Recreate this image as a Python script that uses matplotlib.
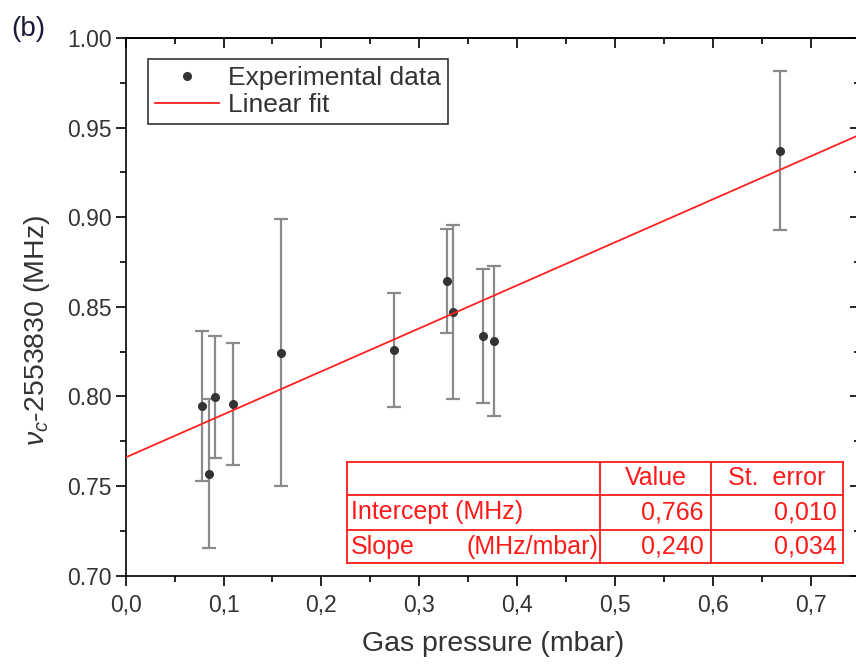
import numpy as np
import matplotlib
matplotlib.use('Agg')
import matplotlib.pyplot as plt
from matplotlib.lines import Line2D
from matplotlib.ticker import MultipleLocator, FuncFormatter

plt.rcParams['font.family'] = ['Liberation Sans', 'DejaVu Sans']
plt.rcParams['mathtext.fontset'] = 'custom'
plt.rcParams['mathtext.it'] = 'Liberation Sans:italic'
plt.rcParams['mathtext.rm'] = 'Liberation Sans'

# data
pressure = [0.0783, 0.0854, 0.0916, 0.110, 0.159, 0.274, 0.328, 0.3348, 0.3654, 0.3764, 0.6686]
freq = [0.7948, 0.757, 0.7998, 0.796, 0.8245, 0.826, 0.8643, 0.8472, 0.8338, 0.831, 0.937]
freq_err = [0.0419, 0.0416, 0.034, 0.034, 0.0744, 0.032, 0.029, 0.0484, 0.0373, 0.0419, 0.0444]

intercept, intercept_err = 0.766, 0.010
slope, slope_err = 0.240, 0.034

W, H = 856, 665
fig = plt.figure(figsize=(W / 100, H / 100), dpi=100)

# axes box in pixels (right spine falls just outside the picture)
ax_l, ax_r, ax_t, ax_b = 125.7, 859.6, 38.0, 575.7
ax = fig.add_axes([ax_l / W, 1 - ax_b / H, (ax_r - ax_l) / W, (ax_b - ax_t) / H])

ax.errorbar(pressure, freq, yerr=freq_err, fmt='none', ecolor='#8a8a8a',
            elinewidth=1.6, capsize=5, capthick=1.6, zorder=2)
ax.plot(pressure, freq, 'o', color='#333333', markersize=5.5, zorder=3,
        label='Experimental data')

xfit = np.array([0.0, 0.75])
ax.plot(xfit, intercept + slope * xfit, color='#ff2020', lw=1.3, zorder=4,
        label='Linear fit')

ax.set_xlim(0, 0.75)
ax.set_ylim(0.70, 1.00)

ax.xaxis.set_major_locator(MultipleLocator(0.1))
ax.xaxis.set_minor_locator(MultipleLocator(0.05))
ax.yaxis.set_major_locator(MultipleLocator(0.05))
ax.yaxis.set_minor_locator(MultipleLocator(0.025))
ax.xaxis.set_major_formatter(FuncFormatter(lambda v, p: f'{v:.1f}'.replace('.', ',')))
ax.yaxis.set_major_formatter(FuncFormatter(lambda v, p: f'{v:.2f}'))

for s in ax.spines.values():
    s.set_linewidth(1.2)
ax.tick_params(which='both', direction='out', width=1.2, labelsize=16.5, colors='black')
ax.tick_params(which='major', length=7)
ax.tick_params(which='minor', length=4)
ax.tick_params(axis='x', pad=6)
ax.tick_params(axis='y', pad=3)
for lab in ax.get_xticklabels() + ax.get_yticklabels():
    lab.set_color('#333333')

# top and right ticks point inward
top = ax.secondary_xaxis('top')
top.xaxis.set_major_locator(MultipleLocator(0.1))
top.xaxis.set_minor_locator(MultipleLocator(0.05))
top.tick_params(which='both', direction='in', width=1.2, labeltop=False)
top.tick_params(which='major', length=7)
top.tick_params(which='minor', length=4)
top.spines['top'].set_linewidth(1.2)
right = ax.secondary_yaxis('right')
right.yaxis.set_major_locator(MultipleLocator(0.05))
right.yaxis.set_minor_locator(MultipleLocator(0.025))
right.tick_params(which='both', direction='in', width=1.2, labelright=False)
right.tick_params(which='major', length=7)
right.tick_params(which='minor', length=4)

ax.set_xlabel('Gas pressure (mbar)', fontsize=20.5, color='#333333', labelpad=10)
fig.text(37 / W, 1 - 330 / H, r'$\nu_c$-2553830 (MHz)', rotation=90,
         ha='center', va='center', fontsize=20.5, color='#333333')
fig.text(11 / W, 1 - 29 / H, '(b)', ha='left', va='center', fontsize=20, color='#1a1a3a')

leg = ax.legend(loc='upper left', bbox_to_anchor=((148 - ax_l) / (ax_r - ax_l), (ax_b - 59) / (ax_b - ax_t)),
                borderaxespad=0, fontsize=19, frameon=True, fancybox=False,
                edgecolor='black', handlelength=2.4, handletextpad=0.35,
                labelspacing=0.1, borderpad=0.28, numpoints=1)
leg.get_frame().set_linewidth(1.2)
for t in leg.get_texts():
    t.set_color('#333333')

# fit results table (pixel layout)
red = '#ff1a1a'
cols = [347.3, 600, 711, 842.7]
rows = [461.7, 495, 530, 563.3]

def fx(px):
    return px / W

def fy(py):
    return 1 - py / H

for r in rows:
    fig.add_artist(Line2D([fx(cols[0]), fx(cols[-1])], [fy(r), fy(r)], color=red, lw=1.3))
for c in cols:
    fig.add_artist(Line2D([fx(c), fx(c)], [fy(rows[0]), fy(rows[-1])], color=red, lw=1.3))

tfs = 18
rc = [(rows[i] + rows[i + 1]) / 2 for i in range(3)]
fig.text(fx((cols[1] + cols[2]) / 2), fy(rc[0]), 'Value', ha='center', va='center', fontsize=tfs, color=red)
fig.text(fx((cols[2] + cols[3]) / 2), fy(rc[0]), 'St.  error', ha='center', va='center', fontsize=tfs, color=red)
fig.text(fx(cols[0] + 4), fy(rc[1]), 'Intercept (MHz)', ha='left', va='center', fontsize=tfs, color=red)
fig.text(fx(cols[2] - 7), fy(rc[1]), f'{intercept:.3f}'.replace('.', ','), ha='right', va='center', fontsize=tfs, color=red)
fig.text(fx(cols[3] - 6), fy(rc[1]), f'{intercept_err:.3f}'.replace('.', ','), ha='right', va='center', fontsize=tfs, color=red)
fig.text(fx(cols[0] + 4), fy(rc[2]), 'Slope', ha='left', va='center', fontsize=tfs, color=red)
fig.text(fx(cols[1] - 2), fy(rc[2]), '(MHz/mbar)', ha='right', va='center', fontsize=tfs, color=red)
fig.text(fx(cols[2] - 7), fy(rc[2]), f'{slope:.3f}'.replace('.', ','), ha='right', va='center', fontsize=tfs, color=red)
fig.text(fx(cols[3] - 6), fy(rc[2]), f'{slope_err:.3f}'.replace('.', ','), ha='right', va='center', fontsize=tfs, color=red)

fig.savefig('out.png', dpi=100)
